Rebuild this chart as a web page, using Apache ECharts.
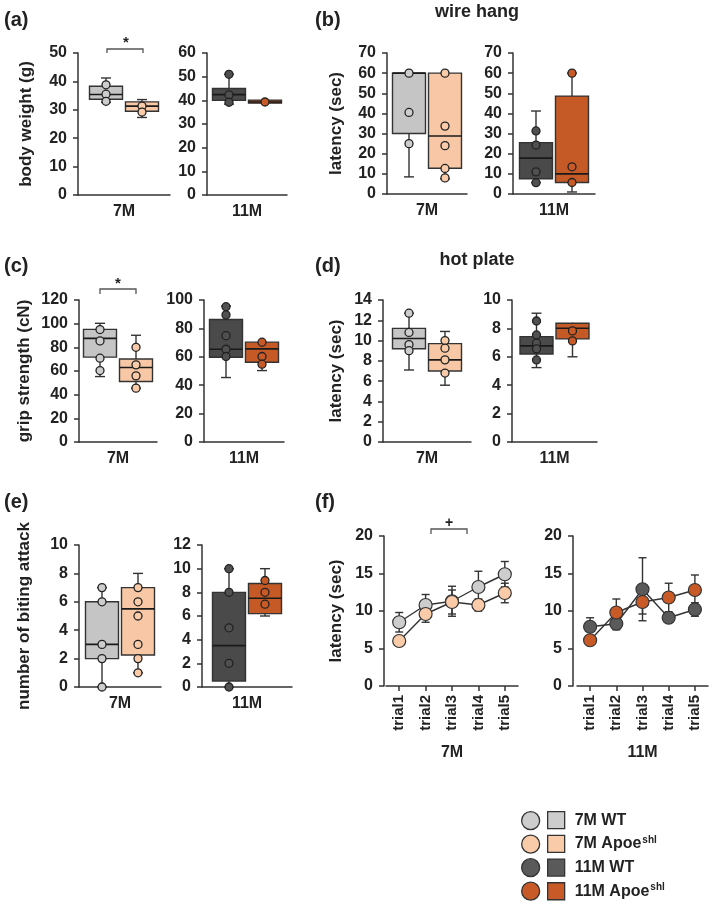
<!DOCTYPE html>
<html>
<head>
<meta charset="utf-8">
<script src="https://cdn.jsdelivr.net/npm/echarts@6/dist/echarts.min.js"></script>
<style>html,body{margin:0;padding:0;background:#fff}#c{width:709px;height:903px}</style>
</head>
<body>
<div id="c"></div>
<script>
// ---------- DATA ----------
// box stats: [min, Q1, median, Q3, max]
const cat7 = ['7M'];
const cat11 = ['11M'];
// (a) body weight (g)
const bw7WT = [32.6, 33.7, 35.4, 38.3, 41.2];
const bw7WTpts = [38.8, 35.5, 33.0];
const bw7Apoe = [27.3, 29.5, 31.3, 32.8, 33.6];
const bw7Apoepts = [31.3, 29.2];
const bw11WT = [38.4, 40.0, 42.4, 45.0, 51.0];
const bw11WTpts = [51.0, 42.3, 39.2];
const bw11Apoe = [38.8, 38.8, 39.3, 40.1, 40.1];
const bw11Apoepts = [39.3];
// (b) wire hang latency (sec)
const wh7WT = [8.5, 30, 60, 60, 60];
const wh7WTpts = [60, 40.5, 25];
const wh7Apoe = [7.5, 12.8, 28.8, 60, 60];
const wh7Apoepts = [60, 33.7, 24, 12.7, 8];
const wh11WT = [5.7, 7.6, 17.8, 25.5, 41.2];
const wh11WTpts = [31.3, 24.3, 11, 5.6];
const wh11Apoe = [1, 5.7, 10, 48.6, 60];
const wh11Apoepts = [60, 13.5, 5.7];
// (c) grip strength (cN)
const gs7WT = [55.3, 71.7, 87.6, 95.2, 100.3];
const gs7WTpts = [95, 85.4, 70.8, 60.4];
const gs7Apoe = [45.5, 51.1, 62.9, 70.2, 90.2];
const gs7Apoepts = [80, 65.2, 55.9, 45.5];
const gs11WT = [45.4, 59.7, 65.3, 86.3, 95.8];
const gs11WTpts = [95.3, 89.5, 74.9, 65.3, 60.2];
const gs11Apoe = [50.3, 56.2, 65.6, 70.3, 70.3];
const gs11Apoepts = [70.3, 60.2, 54.8];
// (d) hot plate latency (sec)
const hp7WT = [7.1, 9.2, 10.2, 11.2, 12.7];
const hp7WTpts = [12.7, 10.8, 9.6, 9.0];
const hp7Apoe = [5.6, 7.0, 8.1, 9.7, 10.9];
const hp7Apoepts = [10.0, 9.25, 8.1, 6.8];
const hp11WT = [5.24, 6.2, 6.77, 7.42, 9.07];
const hp11WTpts = [8.52, 7.54, 6.96, 6.56, 5.78];
const hp11Apoe = [6.0, 7.26, 8.01, 8.36, 8.4];
const hp11Apoepts = [7.82, 7.12];
// (e) number of biting attack
const ba7WT = [0, 2, 3, 6, 7];
const ba7WTpts = [7, 6, 3, 2, 0];
const ba7Apoe = [1, 2.25, 5.5, 7, 8];
const ba7Apoepts = [7, 6, 5, 3, 2, 1];
const ba11WT = [0, 0.5, 3.5, 8, 10];
const ba11WTpts = [10, 8, 5, 2, 0];
const ba11Apoe = [6, 6.2, 7.5, 8.75, 10];
const ba11Apoepts = [9, 8, 7];
// (f) latency (sec) over trials, mean and error
const trials = ['trial1', 'trial2', 'trial3', 'trial4', 'trial5'];
const f7WT = [8.5, 10.8, 11.3, 13.2, 14.9];
const f7WTerr = [1.3, 1.4, 2.0, 2.1, 1.7];
const f7Apoe = [6.0, 9.6, 11.2, 10.8, 12.4];
const f7Apoeerr = [0.4, 1.1, 1.6, 0.8, 1.3];
const f11WT = [7.9, 8.3, 12.9, 9.1, 10.2];
const f11WTerr = [1.2, 0.8, 4.2, 0.6, 0.9];
const f11Apoe = [6.1, 9.8, 11.2, 11.8, 12.8];
const f11Apoeerr = [0.5, 1.8, 1.6, 1.9, 2.0];
const legendNames = ['7M WT', '7M Apoe', '11M WT', '11M Apoe'];

// ---------- STYLE ----------
const FONT = '"Liberation Sans", Arial, Helvetica, sans-serif';
const INK = '#222';
const AX = '#333';
const boxFill = {w7: '#c5c5c5', a7: '#f8c8a6', w11: '#4a4a4a', a11: '#c55a27'};
const ptFill = {w7: '#cdcdcd', a7: '#f9cba9', w11: '#505050', a11: '#c85a28'};
const DX = 18, BW = 33, CAP = 5;

const grids = [], xAxes = [], yAxes = [], series = [];

function yAx(gi, min, max, interval, name, nameGap, offset) {
  return {
    type: 'value', gridIndex: gi, min, max, interval, offset: offset || 0,
    name: name || '', nameLocation: 'middle', nameGap: nameGap || 40, nameRotate: 90,
    nameTextStyle: {fontSize: 17, fontWeight: 'bold', color: INK, fontFamily: FONT},
    axisLine: {show: true, lineStyle: {color: AX, width: 1.5}},
    axisTick: {show: true, length: 5, lineStyle: {color: AX, width: 1.5}},
    axisLabel: {fontSize: 16, fontWeight: 'bold', color: INK, margin: 11, fontFamily: FONT},
    splitLine: {show: false}
  };
}

function boxPanel(rect, cats, yMin, yMax, yInt, name, nameGap, groups) {
  const gi = grids.length;
  grids.push(Object.assign({}, rect));
  xAxes.push({
    type: 'category', gridIndex: gi, data: cats,
    axisLine: {lineStyle: {color: AX, width: 1.5}},
    axisTick: {show: false},
    axisLabel: {fontSize: 16, fontWeight: 'bold', color: INK, margin: 9, fontFamily: FONT}
  });
  yAxes.push(yAx(gi, yMin, yMax, yInt, name, nameGap));
  groups.forEach(function (g) {
    series.push({
      type: 'custom', xAxisIndex: gi, yAxisIndex: gi, silent: true, z: 2,
      data: [[0].concat(g.stats)],
      encode: {x: 0, y: [1, 2, 3, 4, 5]},
      renderItem: function (params, api) {
        const cx = api.coord([0, api.value(3)])[0] + g.dx;
        const ys = [1, 2, 3, 4, 5].map(function (i) { return api.coord([0, api.value(i)])[1]; });
        const hw = BW / 2;
        const st = {stroke: AX, lineWidth: 1.4};
        const ch = [];
        ch.push({type: 'line', shape: {x1: cx, y1: ys[4], x2: cx, y2: ys[3]}, style: st});
        ch.push({type: 'line', shape: {x1: cx, y1: ys[1], x2: cx, y2: ys[0]}, style: st});
        if (ys[3] - ys[4] > 1) ch.push({type: 'line', shape: {x1: cx - CAP, y1: ys[4], x2: cx + CAP, y2: ys[4]}, style: st});
        if (ys[0] - ys[1] > 1) ch.push({type: 'line', shape: {x1: cx - CAP, y1: ys[0], x2: cx + CAP, y2: ys[0]}, style: st});
        ch.push({type: 'rect', shape: {x: cx - hw, y: ys[3], width: BW, height: Math.max(ys[1] - ys[3], 2)},
          style: {fill: g.fill, stroke: AX, lineWidth: 1.4}});
        ch.push({type: 'line', shape: {x1: cx - hw, y1: ys[2], x2: cx + hw, y2: ys[2]}, style: {stroke: '#1a1a1a', lineWidth: 1.6}});
        return {type: 'group', children: ch};
      }
    });
    series.push({
      type: 'scatter', xAxisIndex: gi, yAxisIndex: gi, silent: true, z: 4,
      data: g.pts.map(function (v) { return [0, v]; }),
      symbol: 'circle', symbolSize: 8, symbolOffset: [g.dx, 0],
      itemStyle: {color: g.pfill, borderColor: '#222', borderWidth: 1.3, opacity: 1}
    });
  });
}

function G(stats, pts, key, side) {
  return {stats: stats, pts: pts, fill: boxFill[key], pfill: ptFill[key], dx: side * DX};
}

// (a)
boxPanel({left: 78, top: 53, width: 92, height: 142}, cat7, 0, 50, 10, 'body weight (g)', 43,
  [G(bw7WT, bw7WTpts, 'w7', -1), G(bw7Apoe, bw7Apoepts, 'a7', 1)]);
boxPanel({left: 207, top: 53, width: 80, height: 142}, cat11, 0, 60, 10, '', 40,
  [G(bw11WT, bw11WTpts, 'w11', -1), G(bw11Apoe, bw11Apoepts, 'a11', 1)]);
// (b)
boxPanel({left: 387, top: 53, width: 80, height: 141}, cat7, 0, 70, 10, 'latency (sec)', 42,
  [G(wh7WT, wh7WTpts, 'w7', -1), G(wh7Apoe, wh7Apoepts, 'a7', 1)]);
boxPanel({left: 513, top: 53, width: 82, height: 141}, cat11, 0, 70, 10, '', 40,
  [G(wh11WT, wh11WTpts, 'w11', -1), G(wh11Apoe, wh11Apoepts, 'a11', 1)]);
// (c)
boxPanel({left: 79, top: 300, width: 78, height: 142}, cat7, 0, 120, 20, 'grip strength (cN)', 46,
  [G(gs7WT, gs7WTpts, 'w7', -1), G(gs7Apoe, gs7Apoepts, 'a7', 1)]);
boxPanel({left: 204, top: 300, width: 80, height: 142}, cat11, 0, 100, 20, '', 40,
  [G(gs11WT, gs11WTpts, 'w11', -1), G(gs11Apoe, gs11Apoepts, 'a11', 1)]);
// (d)
boxPanel({left: 383, top: 300, width: 88, height: 142}, cat7, 0, 14, 2, 'latency (sec)', 38,
  [G(hp7WT, hp7WTpts, 'w7', -1), G(hp7Apoe, hp7Apoepts, 'a7', 1)]);
boxPanel({left: 512, top: 300, width: 85, height: 142}, cat11, 0, 10, 2, '', 40,
  [G(hp11WT, hp11WTpts, 'w11', -1), G(hp11Apoe, hp11Apoepts, 'a11', 1)]);
// (e)
boxPanel({left: 79, top: 545, width: 82, height: 142}, cat7, 0, 10, 2, 'number of biting attack', 46,
  [G(ba7WT, ba7WTpts, 'w7', -1), G(ba7Apoe, ba7Apoepts, 'a7', 1)]);
boxPanel({left: 202, top: 545, width: 90, height: 142}, cat11, 0, 12, 2, '', 40,
  [G(ba11WT, ba11WTpts, 'w11', -1), G(ba11Apoe, ba11Apoepts, 'a11', 1)]);

// (f) line panels
function linePanel(rect, yOffset, title, name, nameGap, lines) {
  const gi = grids.length;
  grids.push(Object.assign({}, rect));
  xAxes.push({
    type: 'category', gridIndex: gi, data: trials, boundaryGap: true,
    name: title, nameLocation: 'middle', nameGap: 59,
    nameTextStyle: {fontSize: 16, fontWeight: 'bold', color: INK, fontFamily: FONT},
    axisLine: {lineStyle: {color: AX, width: 1.5}},
    axisTick: {show: true, alignWithLabel: true, length: 5, lineStyle: {color: AX, width: 1.5}},
    axisLabel: {rotate: 90, fontSize: 15, fontWeight: 'bold', color: INK, margin: 9, fontFamily: FONT}
  });
  yAxes.push(yAx(gi, 0, 20, 5, name, nameGap, yOffset));
  lines.forEach(function (l) {
    series.push({
      type: 'custom', xAxisIndex: gi, yAxisIndex: gi, silent: true, z: 1,
      data: l.mean.map(function (m, i) { return [i, m, l.err[i]]; }),
      encode: {x: 0, y: 1},
      renderItem: function (params, api) {
        const i = api.value(0), m = api.value(1), e = api.value(2);
        const p1 = api.coord([i, m + e]), p2 = api.coord([i, m - e]);
        const st = {stroke: AX, lineWidth: 1.4};
        return {type: 'group', children: [
          {type: 'line', shape: {x1: p1[0], y1: p1[1], x2: p2[0], y2: p2[1]}, style: st},
          {type: 'line', shape: {x1: p1[0] - 4, y1: p1[1], x2: p1[0] + 4, y2: p1[1]}, style: st},
          {type: 'line', shape: {x1: p2[0] - 4, y1: p2[1], x2: p2[0] + 4, y2: p2[1]}, style: st}
        ]};
      }
    });
    series.push({
      type: 'line', name: l.name, xAxisIndex: gi, yAxisIndex: gi, z: 3, silent: true,
      data: l.mean, symbol: 'circle', symbolSize: 13, showSymbol: true,
      lineStyle: {color: AX, width: 1.4},
      itemStyle: {color: l.fill, borderColor: AX, borderWidth: 1.2}
    });
  });
}

linePanel({left: 386, top: 536, width: 132, height: 150}, 2, '7M', 'latency (sec)', 39, [
  {name: '7M WT', mean: f7WT, err: f7WTerr, fill: ptFill.w7},
  {name: '7M Apoe', mean: f7Apoe, err: f7Apoeerr, fill: ptFill.a7}
]);
linePanel({left: 577, top: 536, width: 131, height: 150}, 4, '11M', '', 40, [
  {name: '11M WT', mean: f11WT, err: f11WTerr, fill: '#5a5a5a'},
  {name: '11M Apoe', mean: f11Apoe, err: f11Apoeerr, fill: ptFill.a11}
]);

// ---------- ANNOTATIONS ----------
function txt(t, x, y, size, align, va) {
  return {type: 'text', silent: true, style: {text: t, x: x, y: y, fill: INK,
    font: 'bold ' + size + 'px ' + FONT, textAlign: align || 'left', textVerticalAlign: va || 'middle'}};
}
function bracket(x1, x2, yTop, yLeg) {
  return {type: 'polyline', silent: true, shape: {points: [[x1, yLeg], [x1, yTop], [x2, yTop], [x2, yLeg]]},
    style: {stroke: '#555', lineWidth: 1.3, fill: null}};
}
const graphics = [
  txt('(a)', 4, 20, 20), txt('(b)', 315, 20, 20), txt('(c)', 4, 266, 20),
  txt('(d)', 315, 266, 20), txt('(e)', 4, 502, 20), txt('(f)', 315, 502, 20),
  txt('wire hang', 477, 12, 18, 'center'), txt('hot plate', 477, 260, 18, 'center'),
  bracket(107, 143, 49, 53), txt('*', 126, 43, 15, 'center'),
  bracket(100, 136, 289, 294), txt('*', 118, 284, 15, 'center'),
  bracket(431, 467, 529, 534), txt('+', 449, 523, 14, 'center')
];

const chart = echarts.init(document.getElementById('c'), null, {renderer: 'canvas'});
chart.setOption({
  animation: false,
  backgroundColor: '#fff',
  textStyle: {fontFamily: FONT},
  grid: grids,
  xAxis: xAxes,
  yAxis: yAxes,
  series: series,
  legend: [
    {
      orient: 'vertical', left: 521, top: 811, padding: 0, height: 150, icon: 'circle', itemWidth: 18, itemHeight: 18,
      itemGap: 4.2, data: legendNames, selectedMode: false, formatter: function () { return ''; },
      itemStyle: {borderColor: AX, borderWidth: 1.3}, textStyle: {fontSize: 1, lineHeight: 1}
    },
    {
      orient: 'vertical', left: 547, top: 811, padding: 0, height: 150, icon: 'rect', itemWidth: 17, itemHeight: 17,
      itemGap: 5.4, data: legendNames, selectedMode: false,
      itemStyle: {borderColor: AX, borderWidth: 1.3},
      formatter: function (n) {
        return n.indexOf('Apoe') >= 0 ? '{t|' + n + '}{s|shl}' : '{t|' + n + '}';
      },
      textStyle: {
        fontSize: 16, fontWeight: 'bold', color: INK, lineHeight: 18,
        rich: {
          t: {fontSize: 16, fontWeight: 'bold', color: INK, lineHeight: 18, padding: [0, 0, 0, 5], fontFamily: FONT},
          s: {fontSize: 10, fontWeight: 'bold', color: INK, verticalAlign: 'top', padding: [0, 0, 0, 1], fontFamily: FONT}
        }
      }
    }
  ],
  graphic: graphics
});
</script>
</body>
</html>
